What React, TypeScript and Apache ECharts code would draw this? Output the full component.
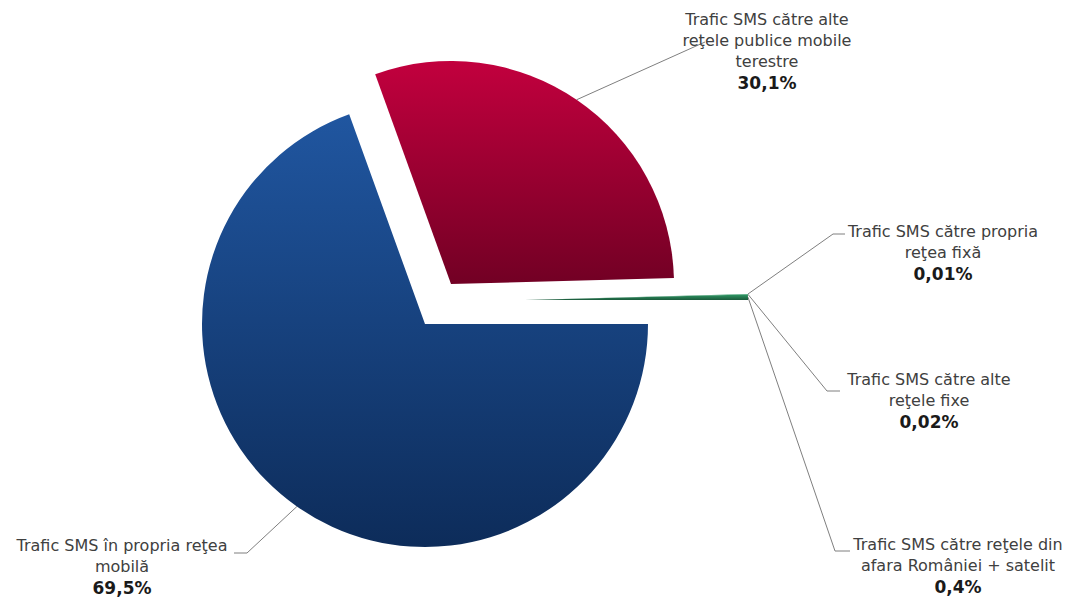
import React, { useEffect, useRef } from "react";
import * as echarts from "echarts";

// ---- data ----
const categories = [
  "Trafic SMS în propria reţea\nmobilă",
  "Trafic SMS către alte\nreţele publice mobile\nterestre",
  "Trafic SMS către propria\nreţea fixă",
  "Trafic SMS către alte\nreţele fixe",
  "Trafic SMS către reţele din\nafara României + satelit",
];
const values = [69.5, 30.1, 0.01, 0.02, 0.4];
// which exploded piece each slice belongs to
const pieceOf = [0, 1, 2, 2, 2];

// ---- layout / style ----
const RADIUS = 223;
const pieceCenters = [
  [425, 324],
  [451, 284],
  [525, 300],
];
const pieceColors = [
  { top: "#2056a0", bottom: "#0d2c5a" },
  { top: "#c2003e", bottom: "#720024" },
  { top: "#2f9a66", bottom: "#1b5a3b" },
];
// label anchor (text block centre-top) and leader-line bend/end per slice
const labelLayouts = [
  { x: 122, y: 535, bend: [247, 553], end: [234, 553] },
  { x: 767, y: 9, bend: [705, 42], end: [705, 42] },
  { x: 943, y: 221, bend: [833, 234], end: [845, 234] },
  { x: 929, y: 369, bend: [827, 391], end: [840, 391] },
  { x: 958, y: 534, bend: [835, 551], end: [850, 551] },
];

const fmtPct = (v: number) => String(v).replace(".", ",") + "%";

export default function App() {
  const ref = useRef<HTMLDivElement>(null);
  useEffect(() => {
    if (!ref.current) return;
    const chart = echarts.init(ref.current, undefined, { renderer: "svg" });
    const total = values.reduce((a, b) => a + b, 0);

    const series = pieceCenters.map((center, p) => ({
      type: "pie",
      center,
      radius: RADIUS,
      startAngle: 0,
      clockwise: true,
      avoidLabelOverlap: false,
      silent: true,
      emphasis: { disabled: true },
      label: {
        show: true,
        position: "outside",
        formatter: (params: any) =>
          "{n|" +
          String(params.name).split("\n").join("}\n{n|") +
          "}\n{v|" +
          fmtPct(params.value) +
          "}",
        rich: {
          n: {
            fontFamily: "DejaVu Sans",
            fontSize: 16,
            color: "#404040",
            lineHeight: 21,
            align: "center",
          },
          v: {
            fontFamily: "DejaVu Sans",
            fontSize: 17,
            fontWeight: "bold",
            color: "#1a1a1a",
            lineHeight: 21,
            align: "center",
          },
        },
      },
      labelLine: { show: true, lineStyle: { color: "#7f7f7f", width: 1 } },
      labelLayout: (params: any) => {
        const i = params.dataIndex;
        const L = labelLayouts[i];
        // start of leader: outer edge at the slice's mid angle
        let cum = 0;
        for (let k = 0; k < i; k++) cum += values[k];
        const mid = ((cum + values[i] / 2) / total) * Math.PI * 2;
        const start = [center[0] + RADIUS * Math.cos(mid), center[1] + RADIUS * Math.sin(mid)];
        return {
          x: L.x,
          y: L.y,
          align: "center",
          verticalAlign: "top",
          labelLinePoints: [start, L.bend, L.end],
        };
      },
      data: values.map((v, i) => {
        const visible = pieceOf[i] === p;
        const c = pieceColors[p];
        return {
          name: categories[i],
          value: v,
          itemStyle: visible
            ? {
                color: new echarts.graphic.LinearGradient(0, 0, 0, 1, [
                  { offset: 0, color: c.top },
                  { offset: 1, color: c.bottom },
                ]),
              }
            : { color: "rgba(0,0,0,0)" },
          label: { show: visible },
          labelLine: { show: visible },
        };
      }),
    }));

    chart.setOption({
      animation: false,
      backgroundColor: "#ffffff",
      series,
    } as any);
    return () => chart.dispose();
  }, []);

  return (
    <div
      ref={ref}
      style={{ position: "absolute", left: 0, top: 0, width: 1069, height: 600 }}
    />
  );
}
